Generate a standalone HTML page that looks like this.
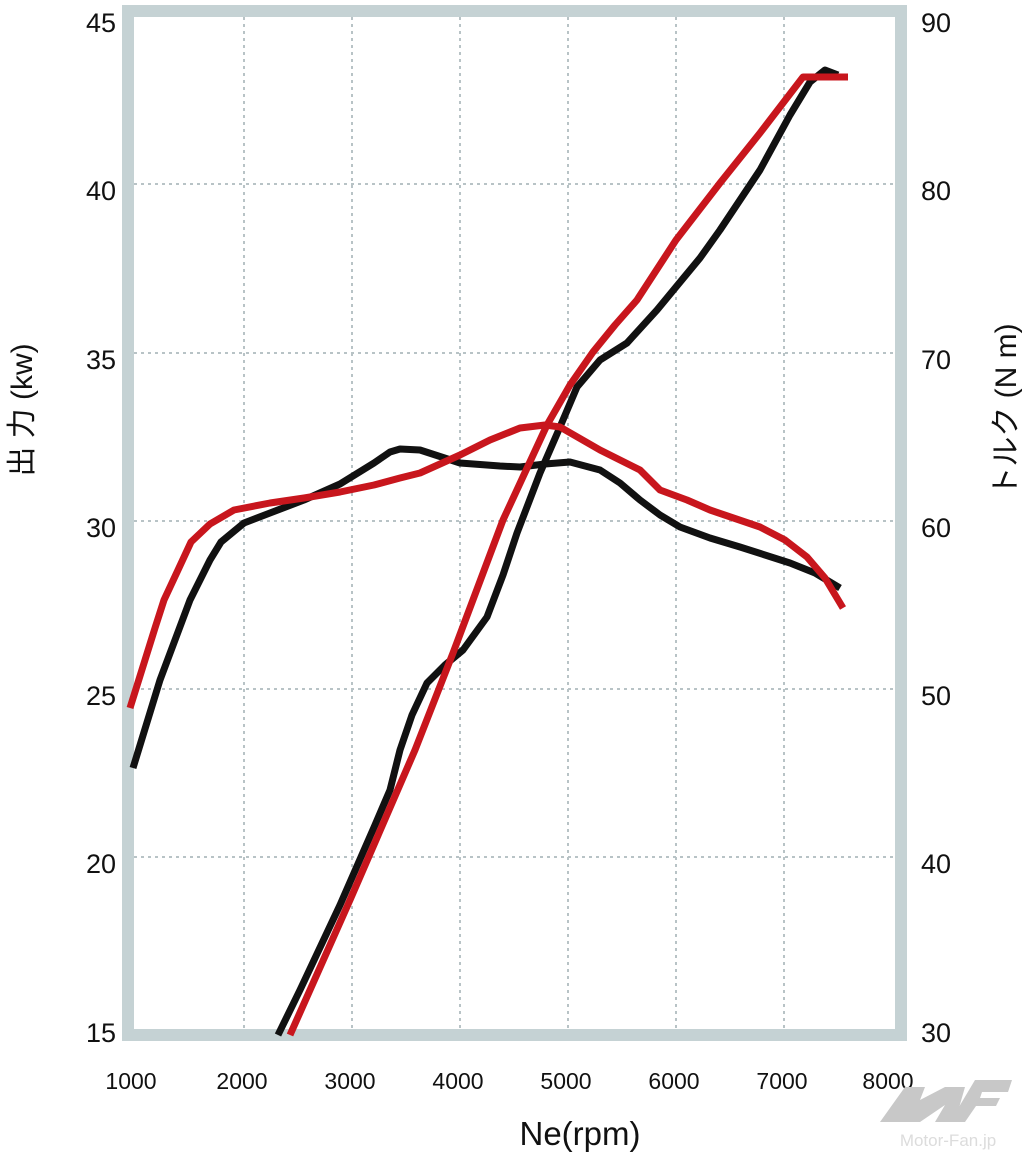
<!DOCTYPE html>
<html><head><meta charset="utf-8"><style>
html,body{margin:0;padding:0;background:#fff}
svg{display:block}
text{font-family:"Liberation Sans","Noto Sans CJK JP",sans-serif;fill:#111}
</style></head><body>
<svg width="1023" height="1159" viewBox="0 0 1023 1159" xmlns="http://www.w3.org/2000/svg">
<rect x="128" y="11" width="773" height="1024" fill="none" stroke="#c5d2d4" stroke-width="12"/>
<g stroke="#b8c3c6" stroke-width="2" stroke-dasharray="3,4">
<line x1="244" y1="17" x2="244" y2="1029"/><line x1="352" y1="17" x2="352" y2="1029"/>
<line x1="460" y1="17" x2="460" y2="1029"/><line x1="568" y1="17" x2="568" y2="1029"/>
<line x1="676" y1="17" x2="676" y2="1029"/><line x1="784" y1="17" x2="784" y2="1029"/>
<line x1="134" y1="184" x2="895" y2="184"/><line x1="134" y1="353" x2="895" y2="353"/>
<line x1="134" y1="521" x2="895" y2="521"/><line x1="134" y1="689" x2="895" y2="689"/>
<line x1="134" y1="857" x2="895" y2="857"/>
</g>
<g fill="none" stroke-width="7" stroke-linejoin="round">
<polyline stroke="#111" points="133,768 160,680 190,600 210,560 221,542 244,523 270,513 304,500 340,484 374,463 390,452 400,449 420,450 460,463 500,466 520,467 545,464 570,462 600,470 620,483 640,500 660,515 680,527 710,538 740,547 790,563 815,573 840,588"/>
<polyline stroke="#111" points="278,1035 300,990 340,905 375,825 390,790 400,750 412,715 427,683 445,665 463,650 487,617 503,575 517,533 540,473 560,427 577,387 600,360 627,343 657,310 676,287 700,258 720,230 760,170 790,115 810,82 825,70 838,75"/>
<polyline stroke="#c8161d" points="130,708 145,660 155,628 164,600 178,570 191,542 210,524 234,510 270,503 304,498 340,492 374,485 400,478 420,473 460,455 490,440 520,428 545,425 560,427 600,450 640,470 660,490 687,500 710,510 760,527 785,540 807,557 825,578 843,608"/>
<polyline stroke="#c8161d" points="290,1035 350,900 415,750 453,653 503,520 547,425 570,385 593,352 615,325 637,300 676,240 720,183 760,133 803,77 848,77"/>
</g>
<g font-size="27" text-anchor="end">
<text x="116" y="32">45</text><text x="116" y="200">40</text><text x="116" y="369">35</text>
<text x="116" y="537">30</text><text x="116" y="705">25</text><text x="116" y="873">20</text><text x="116" y="1042">15</text>
</g>
<g font-size="27">
<text x="921" y="32">90</text><text x="921" y="200">80</text><text x="921" y="369">70</text>
<text x="921" y="537">60</text><text x="921" y="705">50</text><text x="921" y="873">40</text><text x="921" y="1042">30</text>
</g>
<g font-size="23" text-anchor="middle">
<text x="131" y="1089">1000</text><text x="242" y="1089">2000</text><text x="350" y="1089">3000</text>
<text x="458" y="1089">4000</text><text x="566" y="1089">5000</text><text x="674" y="1089">6000</text>
<text x="782" y="1089">7000</text><text x="888" y="1089">8000</text>
</g>
<text x="580" y="1145" font-size="33" text-anchor="middle">Ne(rpm)</text>
<text transform="translate(32,410) rotate(-90)" font-size="30" text-anchor="middle">出 力 (kw)</text>
<text transform="translate(1016,410) rotate(-90)" font-size="30" text-anchor="middle">トルク (N m)</text>
<g fill="#c8c8c8">
<polygon points="880,1122 905,1087 925,1087 920,1100 945,1087 965,1087 955,1122 935,1122 945,1105 920,1122"/>
<polygon points="950,1122 975,1080 1012,1080 1008,1092 982,1092 980,1098 1000,1098 996,1106 976,1106 965,1122"/>
</g>
<text x="948" y="1146" font-size="17" text-anchor="middle" style="fill:#dcdcdc">Motor-Fan.jp</text>
</svg>
</body></html>
